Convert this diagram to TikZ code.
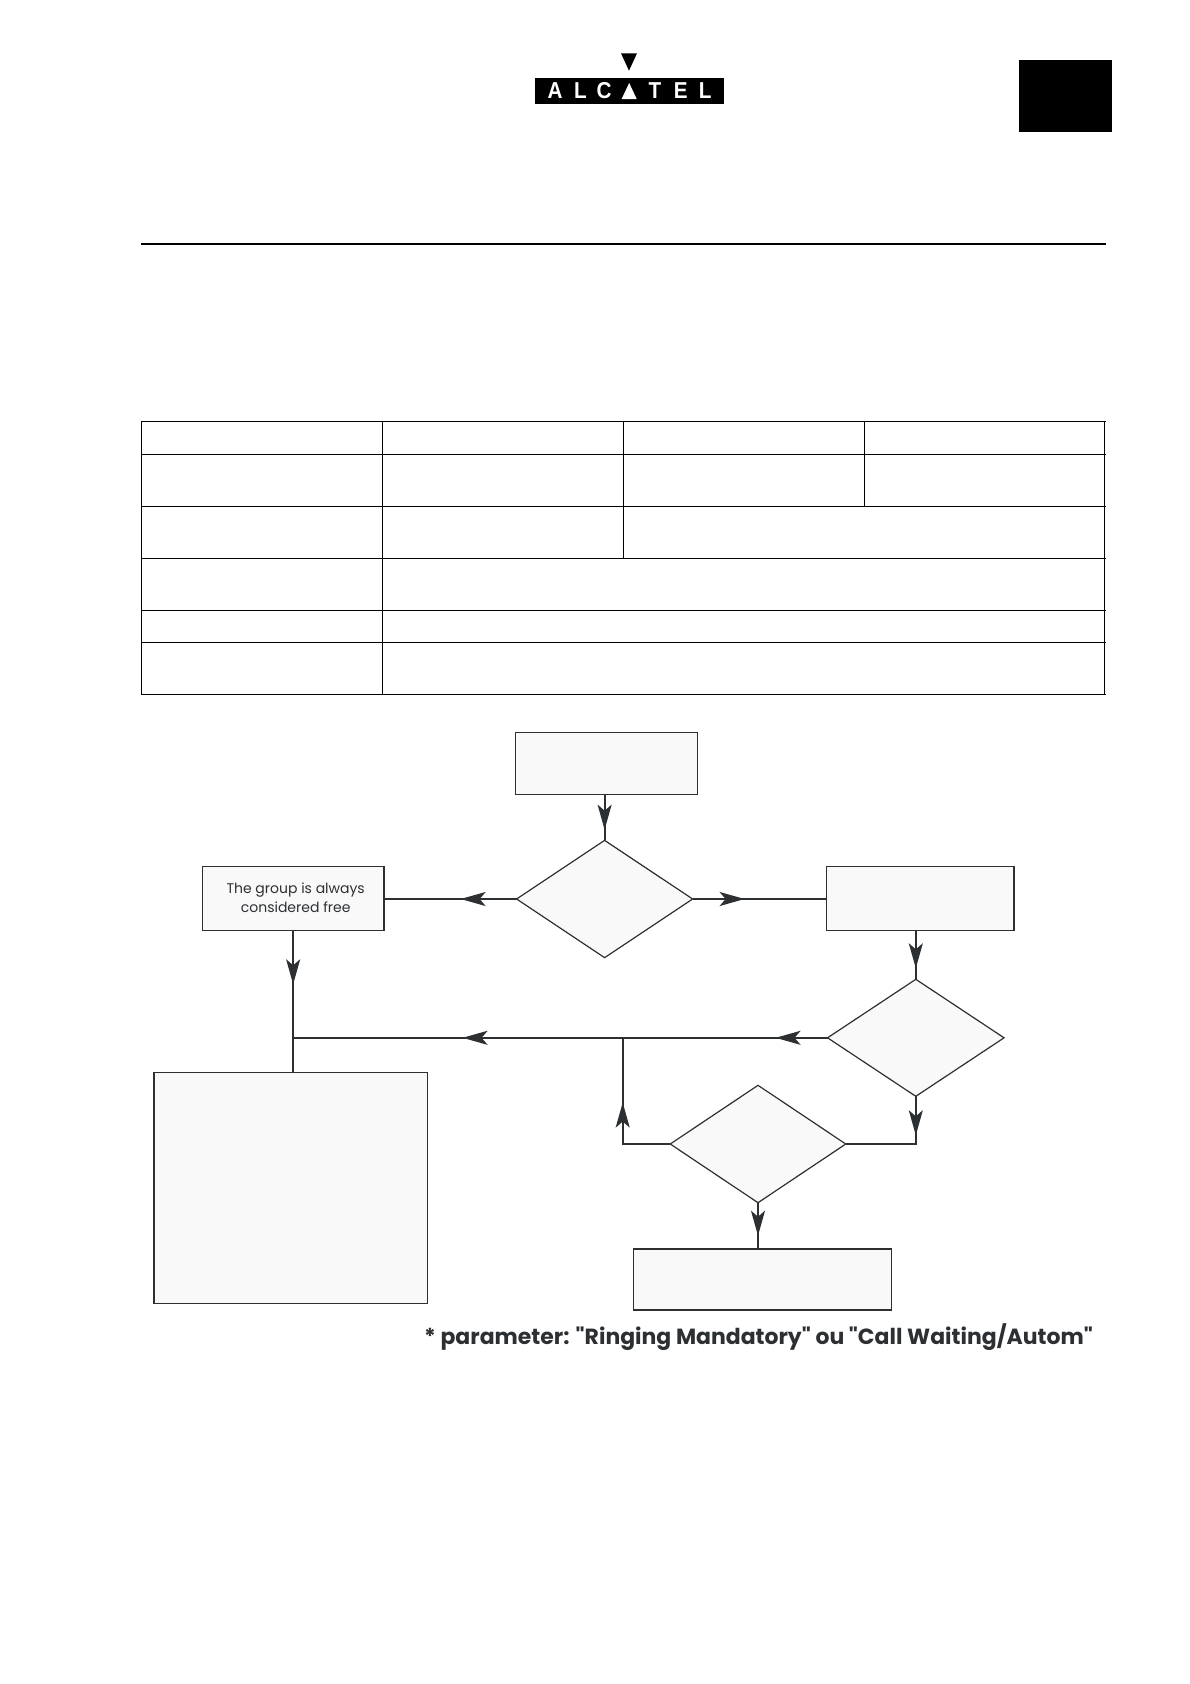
\documentclass[tikz,border=0pt]{standalone}
\usepackage{fontspec}
\setmainfont{Poppins}
\newfontfamily\notefont{Poppins}
\newfontfamily\logofont{Liberation Sans}
\usetikzlibrary{arrows.meta,shapes.geometric,decorations.markings}
\definecolor{ink}{HTML}{2D3033}
\definecolor{boxfill}{HTML}{F9F9F9}
\tikzset{
  flowbox/.style={draw=ink,fill=boxfill,line width=1.2pt,rectangle,inner sep=0pt,outer sep=0pt},
  decision/.style={draw=ink,fill=boxfill,line width=1.2pt,diamond,inner sep=0pt,outer sep=0pt},
  conn/.style={draw=ink,line width=1.9pt},
  flowarrow/.style={postaction={decorate,decoration={markings,mark=at position #1 with {\arrow[ink]{Stealth[length=25pt,width=14pt,inset=6pt]}}}}},
  gridline/.style={draw=black,line width=1pt},
  logoletter/.style={text=white,inner sep=0pt,font=\logofont\bfseries\fontsize{23}{23}\selectfont,xscale=.9},
}
\begin{document}
\begin{tikzpicture}[x=1pt,y=-1pt]
\useasboundingbox[fill=white] (0,0) rectangle (1190,1684);
% logo
\fill[black] (621,53.3) -- (637,53.3) -- (629,70.7) -- cycle;
\fill[black] (535,78) rectangle (724,104);
\node[logoletter] (la) at (555,91) {A};
\node[logoletter] (lb) at (580.4,91) {L};
\node[logoletter] (lc) at (604,91) {C};
\fill[white] (621.6,99) -- (636.7,99) -- (629.2,83) -- cycle;
\node[logoletter] (ld) at (655,91) {T};
\node[logoletter] (le) at (680.8,91) {E};
\node[logoletter] (lf) at (705.3,91) {L};
% tab
\fill[black] (1019,60) rectangle (1112,132);
% header rule
\draw[draw=black,line width=2.3pt] (141,244) -- (1106,244);
% table
\foreach \yy in {421.3,454.3,506.3,558.3,610.3,642.3,694.3}
  \draw[gridline] (141.3,\yy) -- (1106,\yy);
\draw[gridline] (141.3,421.3) -- (141.3,694.3);
\draw[gridline] (382.7,421.3) -- (382.7,694.3);
\draw[gridline] (623.3,421.3) -- (623.3,558.3);
\draw[gridline] (864.3,421.3) -- (864.3,506.3);
\draw[gridline] (1104.7,421.3) -- (1104.7,694.3);
% flowchart nodes
\node[flowbox,minimum width=181.4pt,minimum height=62.4pt] (start) at (606.5,763.5) {};
\node[decision,aspect=1.5,minimum width=176pt,minimum height=117.3pt] (d1) at (604.6,899) {};
\node[flowbox,minimum width=181.7pt,minimum height=63.6pt,align=center,text=ink,font=\fontsize{14}{18.7}\selectfont] (free) at (293.15,898.5) {\raisebox{2pt}{\hspace*{5pt}The group is always}\\\raisebox{2pt}{\hspace*{5pt}considered free}};
\node[flowbox,minimum width=187.3pt,minimum height=63.6pt] (right) at (920.3,898.5) {};
\node[decision,aspect=1.5,minimum width=176.5pt,minimum height=117pt] (d2) at (915.8,1037.8) {};
\node[decision,aspect=1.5,minimum width=175.5pt,minimum height=117.4pt] (d3) at (758,1144) {};
\node[flowbox,minimum width=258.4pt,minimum height=61pt] (bottom) at (762.5,1279.5) {};
\node[flowbox,minimum width=273.7pt,minimum height=231.4pt] (big) at (290.8,1188) {};
\node[anchor=west,inner sep=0pt,text=ink,font=\notefont\bfseries\fontsize{21.95}{24}\selectfont] (note) at (424,1337) {* parameter: "Ringing Mandatory" ou "Call Waiting/Autom"};
% helper coordinates
\coordinate (join) at (free.south |- d2.west);
\coordinate (bend) at (622.7,1144);
\coordinate (tee) at (622.7,1037.8);
\coordinate (elbow) at (d2.south |- d3.east);
% connectors
\draw[conn,flowarrow=35pt] (start.south -| d1.north) -- (d1.north);
\draw[conn,flowarrow=56pt] (d1.west) -- (free.east |- d1.west);
\draw[conn,flowarrow=52pt] (d1.east) -- (right.west |- d1.east);
\draw[conn,flowarrow=54pt] (free.south) -- (big.north -| free.south);
\draw[conn,flowarrow=38pt] (right.south -| d2.north) -- (d2.north);
\draw[conn,flowarrow=52pt,flowarrow=365pt] (d2.west) -- (join);
\draw[conn,flowarrow=39pt] (d2.south) -- (elbow) -- (d3.east);
\draw[conn,flowarrow=89pt] (d3.west) -- (bend) -- (tee);
\draw[conn,flowarrow=33pt] (d3.south) -- (bottom.north -| d3.south);
\end{tikzpicture}
\end{document}
